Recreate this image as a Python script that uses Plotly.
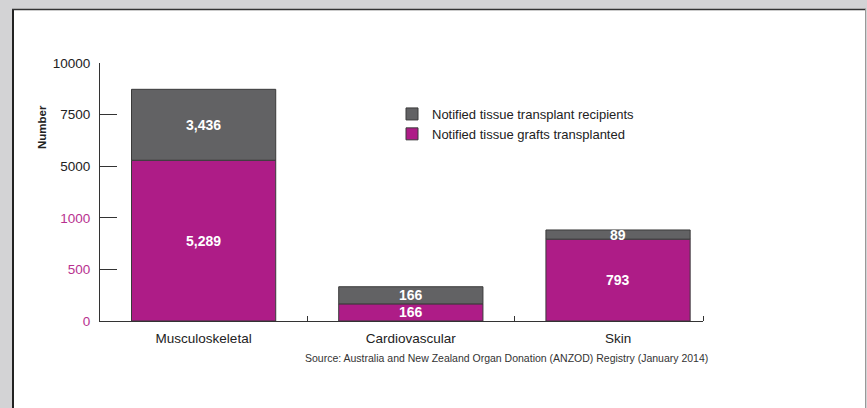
import plotly.graph_objects as go

categories = ["Musculoskeletal", "Cardiovascular", "Skin"]
grafts = [5289, 166, 793]          # Notified tissue grafts transplanted (pink)
recipients = [3436, 166, 89]       # Notified tissue transplant recipients (grey)
tick_values = [0, 500, 1000, 5000, 7500, 10000]
tick_labels = ["0", "500", "1000", "5000", "7500", "10000"]
source_text = "Source: Australia and New Zealand Organ Donation (ANZOD) Registry (January 2014)"

PINK = "#AE1C87"
PINK_TXT = "#B8318F"
GREY = "#626264"
EDGE = "#3a3a3a"
PAPER = "#D3D3D5"
FONT = "Liberation Sans, Arial, sans-serif"


def ypos(v):
    """Broken axis: 0-1000 linear, 1000-5000 compressed, 5000-10000 linear."""
    if v <= 1000:
        return v / 500
    if v >= 5000:
        return 3 + (v - 5000) / 2500
    return 2 + (v - 1000) / 4000


xs = list(range(len(categories)))
pink_top = [ypos(g) for g in grafts]
total_top = [ypos(g + r) for g, r in zip(grafts, recipients)]

fig = go.Figure()
fig.add_trace(go.Bar(
    x=xs, y=pink_top, base=[0] * len(xs), width=0.696,
    name="Notified tissue grafts transplanted",
    marker=dict(color=PINK, line=dict(color=EDGE, width=1)),
    hoverinfo="skip",
))
fig.add_trace(go.Bar(
    x=xs, y=[t - p for t, p in zip(total_top, pink_top)], base=pink_top, width=0.696,
    name="Notified tissue transplant recipients",
    marker=dict(color=GREY, line=dict(color=EDGE, width=1)),
    hoverinfo="skip",
))

annotations = []
for i in xs:
    annotations.append(dict(x=i, y=pink_top[i] / 2, xref="x", yref="y",
                            text=f"<b>{grafts[i]:,}</b>", showarrow=False,
                            font=dict(family=FONT, size=14, color="white")))
    annotations.append(dict(x=i, y=(pink_top[i] + total_top[i]) / 2, xref="x", yref="y",
                            text=f"<b>{recipients[i]:,}</b>", showarrow=False,
                            font=dict(family=FONT, size=14, color="white")))

# layout geometry (px): plot area x 100..703, y 63..321
L, R, T, B = 100, 703, 63, 321
W, H = 867, 408
pw, ph = R - L, B - T


def px_x(x):
    return (x - L) / pw


def px_y(y):
    return (B - y) / ph


annotations.append(dict(x=px_x(42), y=px_y(127), xref="paper", yref="paper",
                        xanchor="center", yanchor="middle",
                        text="<b>Number</b>", textangle=-90, showarrow=False,
                        font=dict(family=FONT, size=11.5, color="#222")))
annotations.append(dict(x=px_x(710), y=px_y(358), xref="paper", yref="paper",
                        xanchor="right", yanchor="middle", text=source_text, showarrow=False,
                        font=dict(family=FONT, size=10.5, color="#333")))

shapes = [
    dict(type="rect", xref="paper", yref="paper", x0=px_x(12), x1=px_x(866), y0=px_y(9), y1=px_y(412),
         fillcolor="white", line=dict(width=0), layer="below"),
    dict(type="line", xref="paper", yref="paper", x0=px_x(13), x1=px_x(13), y0=px_y(9), y1=px_y(412),
         line=dict(color="#222", width=2), layer="below"),
    dict(type="line", xref="paper", yref="paper", x0=px_x(12), x1=px_x(866), y0=px_y(9.5), y1=px_y(9.5),
         line=dict(color="#333", width=1.5), layer="below"),
    dict(type="line", xref="paper", yref="paper", x0=px_x(865.5), x1=px_x(865.5), y0=px_y(9), y1=px_y(412),
         line=dict(color="#999", width=1), layer="below"),
]

ticktext = []
for v, lab in zip(tick_values, tick_labels):
    col = PINK_TXT if v <= 1000 else "#222"
    ticktext.append(f'<span style="color:{col}">{lab}</span>')

fig.update_layout(
    width=W, height=H,
    margin=dict(l=L, r=W - R, t=T, b=H - B, pad=0, autoexpand=False),
    paper_bgcolor=PAPER,
    plot_bgcolor="rgba(0,0,0,0)",
    barmode="overlay",
    showlegend=True,
    legend=dict(x=px_x(392), y=px_y(99), xanchor="left", yanchor="top",
                traceorder="reversed", bgcolor="rgba(0,0,0,0)",
                font=dict(family=FONT, size=13, color="#222"), tracegroupgap=0),
    font=dict(family=FONT, color="#222"),
    xaxis=dict(
        range=[-0.5, 2.41], tickmode="array", tickvals=xs, ticktext=categories,
        ticks="", showgrid=False, zeroline=False, automargin=False,
        showline=True, linecolor="#333", linewidth=1,
        tickfont=dict(family=FONT, size=13.5, color="#222"),
        ticklabelstandoff=5,
        minor=dict(tickmode="array", tickvals=[0.5, 1.5, 2.41], ticks="inside", ticklen=5,
                   tickcolor="#333", tickwidth=1, showgrid=False),
    ),
    yaxis=dict(
        range=[0, 5], tickmode="array", tickvals=[ypos(v) for v in tick_values], ticktext=ticktext,
        ticks="inside", ticklen=17, tickcolor="#333", tickwidth=1,
        showgrid=False, zeroline=False, automargin=False,
        showline=True, linecolor="#333", linewidth=1,
        tickfont=dict(family=FONT, size=13.5, color="#222"),
        ticklabelstandoff=6,
    ),
    annotations=annotations,
    shapes=shapes,
)

fig.write_html(
    "out.html",
    config={"displayModeBar": False},
    post_script=f"document.body.style.margin='0';document.body.style.overflow='hidden';"
                f"document.body.style.background='{PAPER}';",
)
